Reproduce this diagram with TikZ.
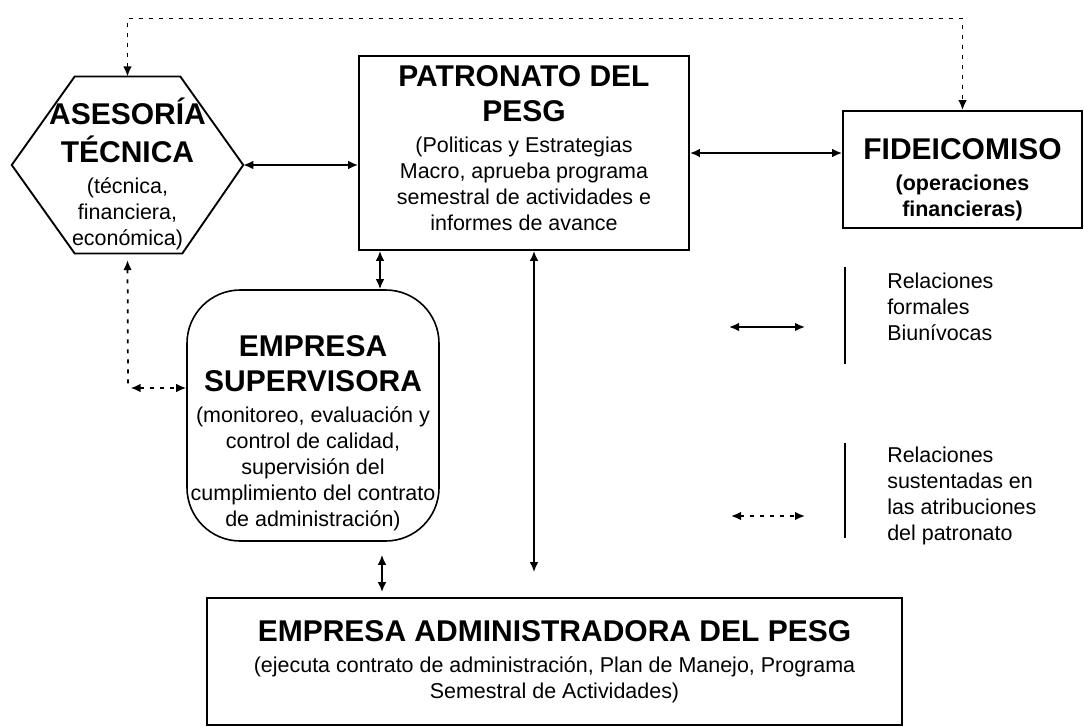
\documentclass[tikz,border=0pt]{standalone}
\usepackage{fontspec}
\setmainfont{Liberation Sans}
\usetikzlibrary{arrows.meta,calc}
\newcommand\subfont{\fontsize{16.1pt}{19.5pt}\selectfont}
\newcommand\ttl[1]{{\bfseries\fontsize{22.5pt}{27pt}\selectfont #1}}

\begin{document}
\begin{tikzpicture}[x=0.75pt,y=-0.75pt,>={Latex[length=7.5pt,width=6.5pt]},
  box/.style={draw,line width=1.4pt,align=center,inner sep=0pt,font=\subfont},
  rel/.style={<->,line width=1.3pt},
  dashrel/.style={rel,dash pattern=on 3pt off 4.5pt},
  legtext/.style={anchor=west,align=left,inner sep=0pt,font=\subfont}]
      \useasboundingbox (0,0) rectangle (1084,727);
      \node[minimum width=173.25pt,minimum height=132.4pt,inner sep=0pt] (ase) at (127.5,165) {};
      \draw[line width=1.4pt] (ase.west) -- ($(ase.north west)+(63,0)$) -- ($(ase.north east)+(-63,0)$) -- (ase.east)
            -- ($(ase.south east)+(-61,0)$) -- ($(ase.south west)+(63,0)$) -- cycle;
      \node[align=center,inner sep=0pt,font=\subfont] (asetxt) at (127.5,174)
            {\ttl{ASESORÍA}\\[6.75pt]\ttl{TÉCNICA}\\[3.75pt](técnica,\\financiera,\\económica)};
      \node[box,minimum width=247.5pt,minimum height=145.5pt] (pat) at (524,153)
            {\ttl{PATRONATO DEL}\\[6.75pt]\ttl{PESG}\\[3.75pt](Politicas y Estrategias\\Macro, aprueba programa\\semestral de actividades e\\informes de avance\rule[-8pt]{0pt}{8pt}};
      \node[box,minimum width=179.25pt,minimum height=87.75pt] (fid) at (962.5,169.5)
            {\rule{0pt}{31pt}\ttl{FIDEICOMISO}\\[3.75pt]\textbf{(operaciones}\\\textbf{financieras)}};
      \node[box,rounded corners=40pt,line width=1.2pt,minimum width=189pt,minimum height=188.25pt] (sup) at (313,415.5)
            {\rule{0pt}{43pt}\ttl{EMPRESA}\\[6.75pt]\ttl{SUPERVISORA}\\[3.75pt](monitoreo, evaluación y\\control de calidad,\\supervisión del\\cumplimiento del contrato\\de administración)};
      \node[box,minimum width=521.25pt,minimum height=95.25pt] (adm) at (554.5,661.5)
            {\ttl{EMPRESA ADMINISTRADORA DEL PESG}\\[3.75pt](ejecuta contrato de administración, Plan de Manejo, Programa\\Semestral de Actividades)};
      \coordinate (top) at (0,18.5);
      \coordinate (corner) at (128,388);
      \coordinate (ps) at (380,0);
      \coordinate (sa) at (382,0);
      \coordinate (pa) at (534,0);
      \draw[dashrel] (ase.north) -- (ase.north |- top) -| (fid.north);
      \draw[dashrel,<-,shorten <=5pt] (ase.south) -- (corner);
      \draw[dashrel] ([xshift=2pt]corner) -- (corner -| sup.west);
      \draw[rel] (ase.east) -- (ase.east -| pat.west);
      \draw[rel] (pat.east) -- (pat.east -| fid.west);
      \draw[rel] (pat.south -| ps) -- (sup.north -| ps);
      \draw[rel,shorten <=9.75pt,shorten >=3.75pt] (sup.south -| sa) -- (adm.north -| sa);
      \draw[rel,shorten >=18.75pt] (pat.south -| pa) -- (adm.north -| pa);
      \coordinate (l1a) at (729,327);
      \coordinate (l1b) at (805,327);
      \coordinate (l2a) at (731,516);
      \coordinate (l2b) at (805,516);
      \draw[rel] (l1a) -- (l1b);
      \draw[dashrel] (l2a) -- (l2b);
      \draw[line width=0.9pt] (845,267) -- (845,364);
      \draw[line width=0.9pt] (845,443) -- (845,538);
      \node[legtext] (leg1) at (887,306.5) {Relaciones\\formales\\Biunívocas};
      \node[legtext] (leg2) at (887,496) {Relaciones\\sustentadas en\\las atribuciones\\del patronato};
\end{tikzpicture}
\end{document}
